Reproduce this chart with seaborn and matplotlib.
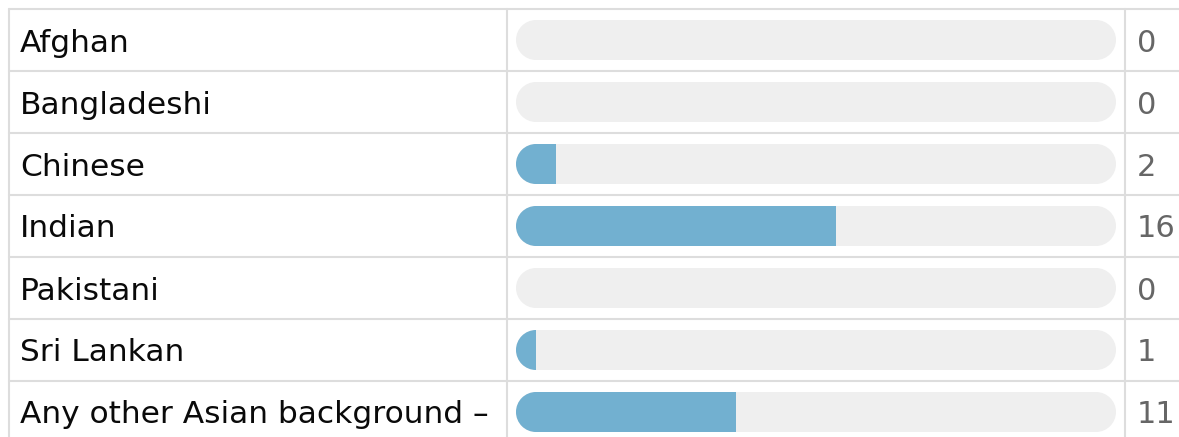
import matplotlib
matplotlib.use("Agg")
import matplotlib.pyplot as plt
from matplotlib.patches import Ellipse, Rectangle
import pandas as pd
import seaborn as sns

# ---- data ----
categories = ["Afghan", "Bangladeshi", "Chinese", "Indian", "Pakistani",
              "Sri Lankan", "Any other Asian background \u2013"]
counts = [0, 0, 2, 16, 0, 1, 11]
total = sum(counts)

df = pd.DataFrame({"category": categories, "count": counts, "total": total})

sns.set_theme(style="white")
plt.rcParams["font.family"] = ["DejaVu Sans"]

# ---- layout (pixels) ----
W, H = 1179, 437
bar_x0, bar_x1 = 516, 1116
row_h, top = 62, 9
bar_h = 40
px = total / (bar_x1 - bar_x0)      # x data units per pixel
py = 1 / row_h                      # y data units per pixel
grid_col = "#dddddd"

fig = plt.figure(figsize=(W / 100, H / 100), dpi=100)
ax = fig.add_axes([0, 0, 1, 1])

# track (full) and filled bars
sns.barplot(data=df, x="total", y="category", color="#efefef",
            saturation=1, width=bar_h * py, ax=ax)
sns.barplot(data=df, x="count", y="category", color="#72b0d0",
            saturation=1, width=bar_h * py, ax=ax)

# turn the square bars into pills (round caps made from the bar's own box)
r = (bar_h / 2) * px
n = len(categories)
for i, p in enumerate(list(ax.patches)):
    x, y, w, h = p.get_x(), p.get_y(), p.get_width(), p.get_height()
    fc = p.get_facecolor()
    p.remove()
    if w <= 0:
        continue
    cy = y + h / 2
    if i < n:
        parts = [Rectangle((x + r, y), w - 2 * r, h),
                 Ellipse((x + r, cy), 2 * r, h),
                 Ellipse((x + w - r, cy), 2 * r, h)]
        z = 2
    else:
        parts = [Rectangle((x + r, y), max(w - r, 0), h),
                 Ellipse((x + r, cy), 2 * r, h)]
        z = 3
    clip = Rectangle((x, y), w, h, transform=ax.transData)
    for part in parts:
        part.set(fc=fc, ec="none", zorder=z)
        ax.add_patch(part)
        part.set_clip_path(clip)

ax.set_xlim(-bar_x0 * px, (W - bar_x0) * px)
row0 = top + row_h / 2
ax.set_ylim((H - row0) * py, -row0 * py)

# table grid
for i in range(n + 1):
    ax.axhline(i - 0.5, xmin=9 / W, xmax=1, color=grid_col, lw=1.5, zorder=1)
for xp in [9, 507, 1125]:
    ax.axvline((xp - bar_x0) * px, ymin=0, ymax=(H - top) / H, color=grid_col, lw=1.5, zorder=1)

# labels and values
for i, (cat, c) in enumerate(zip(categories, counts)):
    ax.text((20 - bar_x0) * px, i, cat, va="center_baseline", ha="left",
            fontsize=22.5, color="#0a0a0a")
    ax.text((1137 - bar_x0) * px, i, str(c), va="center_baseline", ha="left",
            fontsize=22, color="#666666")

ax.set_axis_off()
fig.savefig("out.png", dpi=100)
